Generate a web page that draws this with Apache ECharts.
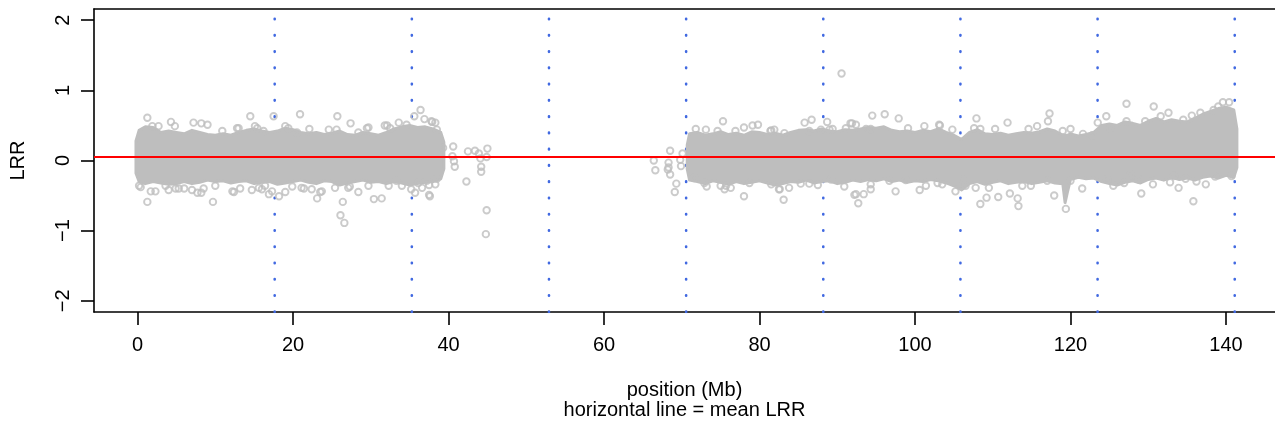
<!DOCTYPE html>
<html><head><meta charset="utf-8">
<script src="https://cdn.jsdelivr.net/npm/echarts@6/dist/echarts.min.js"></script>
<style>html,body{margin:0;padding:0;background:#fff}#c{width:1275px;height:425px}</style>
</head><body><div id="c"></div>
<script>
// ---- tick labels / reference lines ----
const xTicks = [0, 20, 40, 60, 80, 100, 120, 140];
const yTicks = [-2, -1, 0, 1, 2];
const boundaryLines = [17.64, 35.28, 52.92, 70.56, 88.2, 105.84, 123.48, 141.12];
const meanLRR = 0.05;

// ---- dense LRR cloud envelopes (Mb, LRR) ----
const band1X = [-0.2,0.2,1,2,3,4,5,6,7,8,9,10,11,12,13,14,15,16,17,18,19,20,21,22,23,24,25,26,27,28,29,30,31,32,33,34,35,36,37,38,39,39.4];
const band1Top = [0.28,0.43,0.48,0.47,0.40,0.42,0.40,0.38,0.43,0.40,0.37,0.36,0.38,0.36,0.40,0.43,0.45,0.42,0.40,0.42,0.46,0.44,0.40,0.38,0.40,0.37,0.39,0.42,0.37,0.36,0.40,0.38,0.36,0.40,0.45,0.48,0.50,0.47,0.48,0.45,0.40,0.26];
const band1Bottom = [-0.18,-0.30,-0.33,-0.30,-0.32,-0.34,-0.33,-0.30,-0.33,-0.31,-0.28,-0.30,-0.29,-0.32,-0.30,-0.29,-0.33,-0.31,-0.30,-0.34,-0.32,-0.30,-0.28,-0.31,-0.33,-0.29,-0.30,-0.35,-0.32,-0.30,-0.28,-0.31,-0.30,-0.33,-0.30,-0.32,-0.35,-0.33,-0.31,-0.30,-0.26,-0.12];

const band2X = [70.7,71,72,73,74,75,76,77,78,79,80,81,82,83,84,85,86,87,88,89,90,91,92,93,94,95,96,97,98,99,100,101,102,103,104,105,106,107,108,109,110,111,112,113,114,115,116,117,118,119,119.3,119.6,120,121,122,123,124,125,126,127,128,129,130,131,132,133,134,135,136,137,138,139,140,141,141.4];
const band2Top = [0.22,0.38,0.40,0.36,0.38,0.41,0.37,0.39,0.36,0.41,0.40,0.37,0.39,0.36,0.40,0.43,0.44,0.42,0.45,0.42,0.41,0.44,0.43,0.45,0.47,0.46,0.48,0.43,0.41,0.42,0.40,0.43,0.41,0.45,0.40,0.36,0.30,0.40,0.44,0.38,0.37,0.39,0.36,0.38,0.40,0.39,0.41,0.45,0.42,0.36,0.36,0.36,0.38,0.35,0.37,0.40,0.50,0.52,0.50,0.55,0.53,0.50,0.56,0.60,0.55,0.58,0.56,0.55,0.60,0.66,0.70,0.74,0.76,0.72,0.45];
const band2Bottom = [-0.12,-0.28,-0.30,-0.33,-0.29,-0.31,-0.34,-0.30,-0.33,-0.31,-0.29,-0.32,-0.35,-0.33,-0.30,-0.31,-0.28,-0.32,-0.30,-0.29,-0.33,-0.31,-0.28,-0.30,-0.27,-0.29,-0.26,-0.30,-0.28,-0.31,-0.29,-0.30,-0.27,-0.29,-0.32,-0.36,-0.42,-0.33,-0.30,-0.34,-0.31,-0.29,-0.33,-0.31,-0.30,-0.33,-0.31,-0.29,-0.32,-0.33,-0.60,-0.45,-0.27,-0.24,-0.26,-0.25,-0.30,-0.33,-0.35,-0.31,-0.29,-0.32,-0.27,-0.25,-0.28,-0.24,-0.27,-0.25,-0.28,-0.24,-0.22,-0.25,-0.21,-0.24,-0.10];

// ---- individual probes (Mb, LRR) ----
const points1 = [[1.26,0.61],[1.26,-0.59],[9.7,-0.59],[14.5,0.63],[20.9,0.66],[25.7,0.63],[27.4,0.53],[26.1,-0.78],[26.6,-0.89],[26.4,-0.59],[30.4,-0.55],[31.4,-0.54],[23.1,-0.54],[36.4,0.72],[35.6,0.63],[37.6,-0.51],[35.7,-0.46],[35.2,-0.41],[4.3,0.55],[7.2,0.54],[8.2,0.53],[9.0,0.51],[4.8,0.49],[0.4,-0.38],[1.7,-0.44],[18.2,-0.51],[19.0,-0.45],[8.2,-0.46],[12.4,-0.45],[14.7,-0.42],[22.1,0.45],[24.6,0.44],[29.7,0.47],[33.6,0.54],[38.3,0.54],[37.5,-0.49],[23.5,-0.45],[28.4,-0.45],[32.3,-0.36],[36.9,0.59],[37.9,0.55],[36.1,-0.32],[37.5,-0.35],[17.5,0.63],[7.7,-0.46],[8.5,-0.40],[13.2,-0.40],[16.0,-0.41],[16.9,-0.48],[17.3,-0.44],[5.3,-0.40],[6.0,-0.40],[3.6,-0.36],[10.9,0.42],[12.8,0.46],[15.4,0.46],[16.2,0.42],[32.1,0.50],[20.5,0.40],[21.4,-0.40],[23.7,-0.44],[37.2,-0.29],[38.5,-0.26],[19.9,-0.37],[27.3,-0.37],[33.3,-0.29],[1.9,0.49],[2.7,0.49],[13.0,0.46],[15.1,0.49],[19.0,0.49],[19.4,0.46],[25.6,0.44],[28.4,0.40],[29.5,0.46],[31.8,0.50],[32.5,0.46],[34.6,0.51],[37.8,0.56],[38.5,0.44],[0.2,-0.36],[2.3,-0.44],[4.0,-0.42],[4.9,-0.40],[7.0,-0.42],[10.0,-0.36],[12.2,-0.44],[15.6,-0.39],[16.4,-0.36],[21.1,-0.39],[22.4,-0.41],[25.4,-0.39],[27.1,-0.39],[29.7,-0.36],[34.0,-0.36],[36.6,-0.39],[38.3,-0.34]];
const pointsGap = [[39.3,0.18],[40.6,0.20],[40.5,0.06],[40.7,-0.01],[40.8,-0.09],[42.3,-0.30],[42.5,0.13],[43.4,0.14],[43.9,0.10],[44.1,0.03],[45.0,0.17],[44.9,0.05],[44.2,-0.09],[44.2,-0.16],[44.9,-0.71],[44.8,-1.05],[66.4,0.00],[66.6,-0.14],[68.5,0.14],[68.3,-0.03],[68.2,-0.13],[68.5,-0.20],[69.3,-0.33],[69.1,-0.45],[70.1,0.10],[69.9,-0.08],[69.8,0.01],[68.3,-0.10]];
const points2 = [[75.3,0.56],[79.8,0.51],[79.1,0.50],[85.8,0.54],[86.7,0.58],[88.7,0.55],[91.9,0.53],[78.0,-0.51],[83.1,-0.56],[92.2,-0.49],[92.7,-0.61],[73.2,-0.37],[72.9,-0.32],[76.3,-0.39],[82.5,-0.41],[83.8,-0.39],[87.5,-0.35],[90.9,-0.37],[81.5,-0.34],[75.7,-0.36],[90.55,1.24],[94.5,0.64],[96.1,0.66],[97.9,0.60],[107.9,0.60],[117.3,0.67],[127.2,0.81],[130.7,0.77],[139.6,0.83],[140.4,0.83],[124.6,0.63],[123.5,0.54],[132.6,0.68],[111.9,0.54],[103.2,0.50],[93.4,-0.48],[97.5,-0.44],[100.6,-0.42],[101.4,-0.36],[94.3,-0.41],[92.4,-0.48],[105.2,-0.44],[106.5,-0.36],[108.4,-0.62],[113.3,-0.65],[113.2,-0.54],[109.2,-0.53],[110.7,-0.52],[112.2,-0.47],[117.9,-0.50],[119.4,-0.69],[121.5,-0.40],[126.9,-0.32],[129.1,-0.47],[130.6,-0.34],[133.9,-0.39],[135.8,-0.58],[136.2,-0.30],[137.4,-0.34],[81.9,0.44],[81.4,0.42],[91.7,0.53],[92.4,0.51],[93.7,0.45],[94.3,0.45],[87.9,0.44],[89.0,0.44],[86.4,0.42],[83.2,0.39],[99.1,0.46],[101.2,0.49],[103.1,0.51],[104.8,0.44],[107.6,0.46],[108.4,0.45],[110.3,0.45],[114.6,0.45],[115.7,0.49],[117.1,0.56],[119.0,0.42],[94.3,-0.34],[96.7,-0.29],[98.8,-0.28],[102.9,-0.32],[103.5,-0.34],[106.1,-0.27],[107.8,-0.39],[109.5,-0.39],[113.8,-0.36],[114.9,-0.36],[117.0,-0.29],[120.0,0.45],[121.6,0.38],[122.8,0.36],[125.1,0.46],[127.2,0.56],[129.6,0.56],[131.6,0.63],[134.5,0.58],[135.6,0.64],[136.7,0.68],[138.4,0.72],[139.0,0.77],[120.0,-0.29],[124.7,-0.27],[125.5,-0.36],[127.7,-0.20],[133.3,-0.22],[134.8,-0.26],[138.6,-0.23],[140.7,-0.22],[132.8,-0.31],[128.8,-0.27],[71.8,0.45],[73.1,0.44],[74.6,0.42],[76.9,0.42],[78.0,0.47],[81.5,0.43],[89.4,0.45],[91.1,0.46],[71.6,-0.25],[75.0,-0.36],[75.5,-0.41],[78.7,-0.32],[82.6,-0.41],[85.3,-0.33],[86.4,-0.33],[89.2,-0.27]];

const bands = [
  {x: band1X, top: band1Top, bottom: band1Bottom},
  {x: band2X, top: band2Top, bottom: band2Bottom}
];

const X_MIN = -5.6, X_MAX = 146.3, Y_MIN = -2.16, Y_MAX = 2.16;
const GRAY = '#bebebe';
const FONT = 'Liberation Sans, Arial, Helvetica, sans-serif';
const AXIS_LINE = {show: true, onZero: false, lineStyle: {color: '#000', width: 1.6}};

const chart = echarts.init(document.getElementById('c'), null, {renderer: 'canvas'});

const vSeries = boundaryLines.map(v => ({
  type: 'line', z: 1, silent: true, symbol: 'none', animation: false,
  data: [[v, Y_MIN], [v, Y_MAX]],
  lineStyle: {color: '#4169e1', width: 2.6, type: [0.5, 15.76], cap: 'round'}
}));

chart.setOption({
  animation: false,
  backgroundColor: '#fff',
  textStyle: {fontFamily: FONT},
  grid: {left: 92, right: 0, top: 9, bottom: 112, show: false, containLabel: false},
  xAxis: [{
    type: 'value', min: X_MIN, max: X_MAX, position: 'bottom',
    axisLine: AXIS_LINE,
    splitLine: {show: false},
    axisTick: {show: true, length: 13, customValues: xTicks, lineStyle: {color: '#000', width: 1.6}},
    axisLabel: {customValues: xTicks, fontSize: 20, color: '#000', margin: 23, fontFamily: FONT},
    name: 'position (Mb)\nhorizontal line = mean LRR',
    nameLocation: 'middle', nameGap: 68,
    nameTextStyle: {fontSize: 20, lineHeight: 20, color: '#000', fontFamily: FONT}
  }, {
    type: 'value', min: X_MIN, max: X_MAX, position: 'top',
    axisLine: AXIS_LINE, axisTick: {show: false}, axisLabel: {show: false}, splitLine: {show: false}
  }],
  yAxis: {
    type: 'value', min: Y_MIN, max: Y_MAX,
    axisLine: AXIS_LINE,
    splitLine: {show: false},
    axisTick: {show: true, length: 13, customValues: yTicks, lineStyle: {color: '#000', width: 1.6}},
    axisLabel: {customValues: yTicks, fontSize: 20, color: '#000', margin: 21, rotate: 90, fontFamily: FONT,
      formatter: v => String(v).replace('-', '\u2212')},
    name: 'LRR', nameLocation: 'middle', nameGap: 66, nameRotate: 90,
    nameTextStyle: {fontSize: 20, color: '#000', fontFamily: FONT}
  },
  series: vSeries.concat([
    {
      type: 'custom', z: 2, silent: true, clip: true,
      data: bands.map((b, i) => [i]),
      encode: {x: -1, y: -1},
      renderItem: function (params, api) {
        const b = bands[params.dataIndex];
        const pts = [];
        for (let i = 0; i < b.x.length; i++) pts.push(api.coord([b.x[i], b.top[i]]));
        for (let i = b.x.length - 1; i >= 0; i--) pts.push(api.coord([b.x[i], b.bottom[i]]));
        return {type: 'polygon', shape: {points: pts}, style: {fill: GRAY, stroke: GRAY, lineWidth: 3, lineJoin: 'round'}};
      }
    },
    {
      type: 'scatter', z: 3, silent: true, symbol: 'circle', symbolSize: 6.5,
      data: points1.concat(pointsGap, points2),
      itemStyle: {color: 'rgba(0,0,0,0)', borderColor: GRAY, borderWidth: 1.9}
    },
    {
      type: 'line', z: 4, silent: true, symbol: 'none',
      data: [[X_MIN, meanLRR], [X_MAX, meanLRR]],
      lineStyle: {color: '#ff0000', width: 2}
    }
  ])
});
</script></body></html>
